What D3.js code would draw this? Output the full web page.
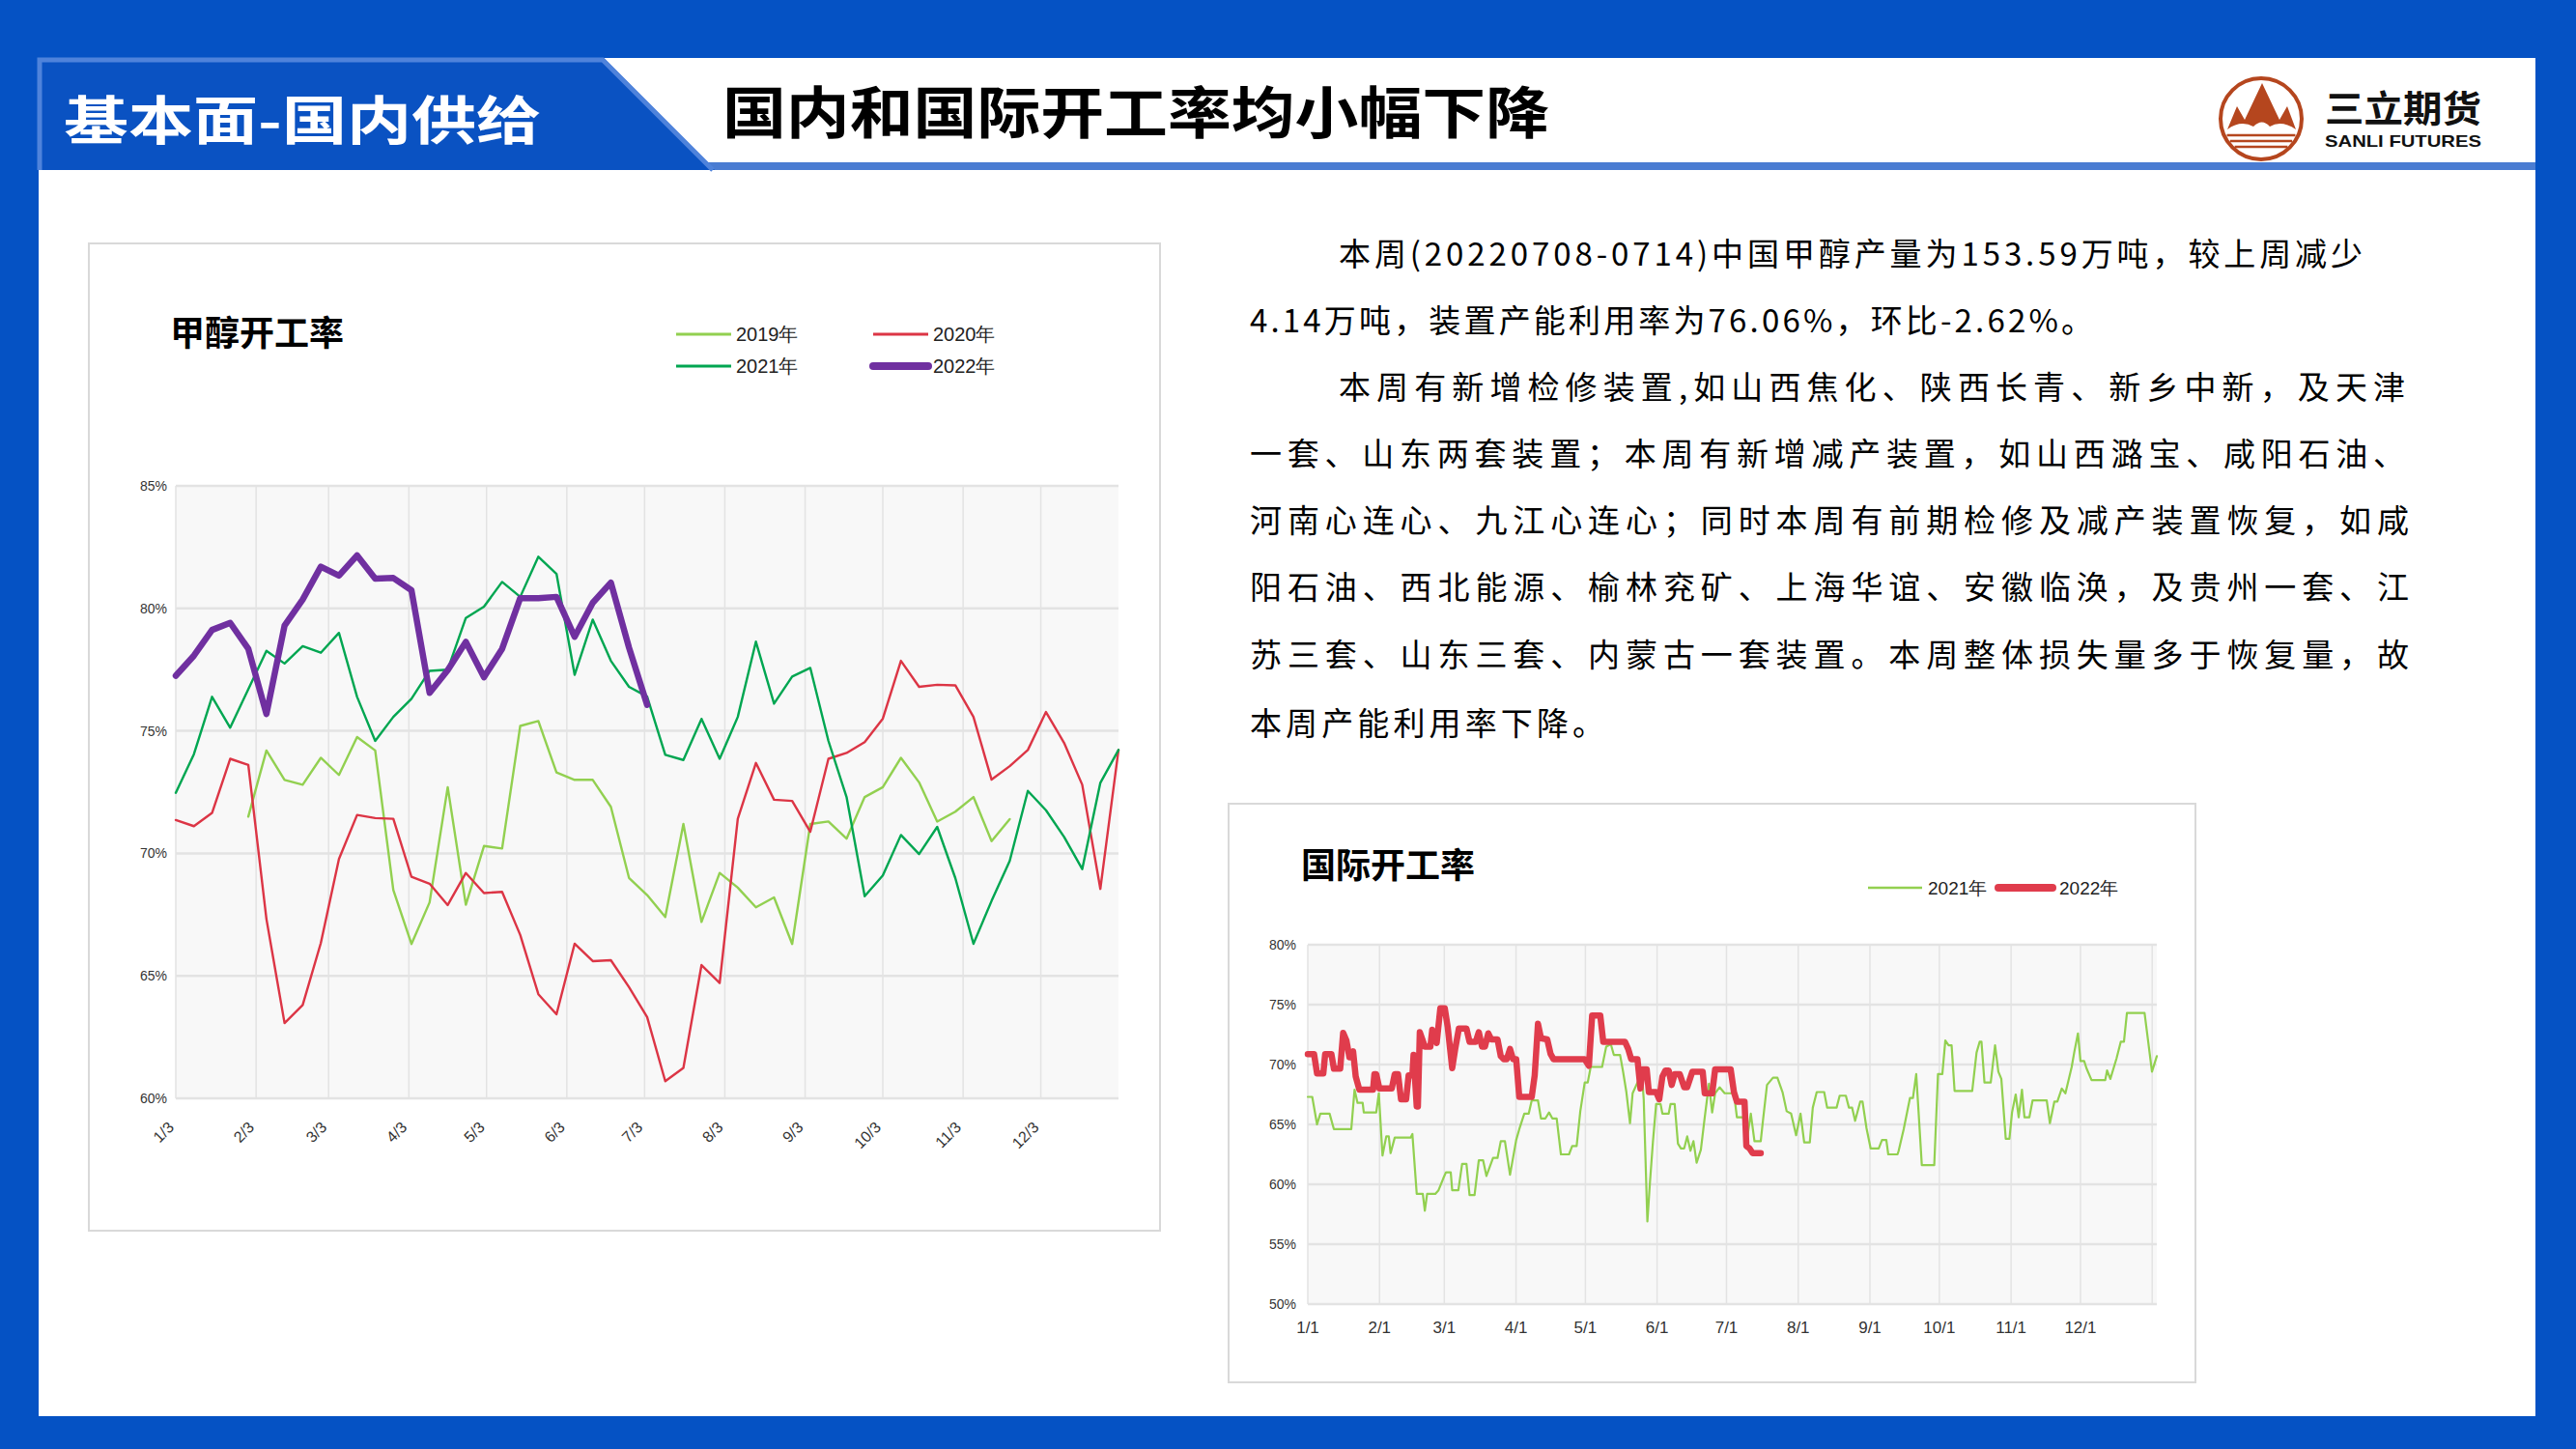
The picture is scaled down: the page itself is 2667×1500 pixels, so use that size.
<!DOCTYPE html>
<html><head><meta charset="utf-8">
<script src="https://cdn.jsdelivr.net/npm/d3@7"></script>
<style>html,body{margin:0;padding:0;background:#fff;} svg{display:block;}</style>
</head><body>
<svg id="c" width="2667" height="1500"></svg>
<script>
// ---------------- DATA ----------------
const domYearLabels = ["2019年", "2020年", "2021年", "2022年"];
const domXTicks = ["1/3","2/3","3/3","4/3","5/3","6/3","7/3","8/3","9/3","10/3","11/3","12/3"];
const domYTicks = [60, 65, 70, 75, 80, 85];
// weekly values, week 0 = 1/3
const dom2019 = [null,null,null,null,71.5,74.2,73.0,72.8,73.9,73.2,74.75,74.2,68.5,66.3,
  68.0,72.7,67.9,70.3,70.2,75.2,75.4,73.3,73.0,73.0,71.9,69.0,68.3,67.4,71.2,67.2,69.2,68.6,67.8,68.2,
  66.3,71.2,71.3,70.6,72.3,72.7,73.9,72.9,71.3,71.7,72.3,70.5,71.4,null,null,null,null,null,null];
const dom2020 = [71.36,71.11,71.65,73.86,73.61,67.32,63.07,63.81,66.34,69.77,71.57,71.44,71.41,69.04,
  68.76,67.89,69.2,68.38,68.43,66.67,64.25,63.43,66.31,65.6,65.64,64.54,63.32,
  60.7,61.24,65.44,64.71,71.41,73.69,72.19,72.14,70.88,73.86,74.1,74.54,75.5,
  77.86,76.8,76.88,76.86,75.57,73.01,73.56,74.22,75.77,74.51,72.8,68.55,74.22];
const dom2021 = [72.47,74.05,76.39,75.13,76.7,78.27,77.75,78.46,78.19,79.0,76.39,74.59,75.57,76.31,
  77.45,77.5,79.61,80.07,81.08,80.47,82.11,81.41,77.29,79.54,77.86,76.8,76.4,
  74.02,73.81,75.49,73.86,75.57,78.64,76.11,77.22,77.57,74.59,72.3,68.25,69.1,
  70.75,69.97,71.08,68.99,66.31,68.06,69.69,72.55,71.76,70.67,69.36,72.88,74.22];
const dom2022 = [77.25,78.07,79.12,79.41,78.35,75.69,79.30,80.36,81.70,81.34,82.16,81.21,81.24,80.74,
  76.55,77.48,78.63,77.19,78.35,80.42,80.42,80.47,78.84,80.23,81.05,78.4,76.06];

const intlYearLabels = ["2021年", "2022年"];
const intlXTicks = ["1/1","2/1","3/1","4/1","5/1","6/1","7/1","8/1","9/1","10/1","11/1","12/1"];
const intlYTicks = [50, 55, 60, 65, 70, 75, 80];
// day of year (0 = 1/1) and value
const intl2021Day = [0,1.9,4,5.4,9.4,11.3,18.8,20.2,21.5,23.7,24.2,29.6,30.7,32.3,33.9,35,35.8,37.6,44.4,45.2,
  47.1,49.7,50.6,51.6,55.1,56.5,58.6,59.7,61.8,62.4,65.1,66.7,68.6,69.9,72.1,73.9,75.8,77.2,80.1,82,
  83.4,85.2,87.4,90.1,91.4,93.6,95.5,96.8,99.5,100.8,102.7,104.3,105.7,107.6,109.4,112.9,114.3,116.2,117.8,119.7,
  121,122.3,127.2,129,131,132.3,135,136.3,137.7,139.3,140.4,142.5,144.4,145.2,146.8,147.9,149.2,150.6,152.5,153.3,
  156,156.8,158.6,160,161.3,162.7,164,165.4,166.7,168.1,169.9,171.6,173.4,174.8,176.1,178,180.2,184.2,185.5,188.2,
  189.6,191.5,193.1,195.8,196.8,198.5,201.1,203,205.2,207,208.9,211.1,213,214.6,217,218.3,220,223.2,224.5,228.6,
  229.9,232.6,233.9,235.3,236.6,238.8,239.8,241.5,243.3,246.8,248.2,250.1,250.9,254.9,255.4,257.6,260.3,261.6,263,264,
  265.4,270.8,272.4,274.3,275.6,277,278.3,279.6,287.2,289.1,290.4,291.2,292.5,295.2,297.1,298.5,299.8,301.7,303.3,304.4,
  306,307.3,308.7,309.8,311.9,313.3,319.4,320.8,322.7,324,325.9,327.5,330.2,331.3,332.9,334,335.6,336.6,338.8,344.7,
  345.5,346.9,349.6,351.4,352.8,354.1,361.7,364.9,367];
const intl2021Val = [67.3,67.3,65.0,65.9,65.9,64.6,64.6,67.9,66.8,66.8,66.0,66.0,67.6,62.4,64.0,64.0,62.6,63.9,63.9,64.2,
  59.2,59.2,57.8,59.2,59.2,59.5,60.5,61.0,61.0,59.5,59.5,61.7,61.7,59.1,59.1,62.0,62.0,60.7,62.2,62.2,
  63.6,63.6,60.8,63.7,64.6,65.9,65.9,67.0,67.0,65.5,65.5,66.0,65.5,65.5,62.5,62.5,63.2,63.2,66.1,68.5,
  68.5,69.8,69.8,71.5,71.7,70.8,70.8,69.4,67.7,65.1,67.6,68.5,69.2,67.1,56.9,60.2,63.6,66.7,66.7,65.9,
  65.9,66.7,66.7,63.4,63.0,63.0,64.0,62.8,63.6,61.8,62.9,65.6,68.4,66.0,67.6,68.1,67.6,67.6,65.6,65.6,
  63.4,65.9,63.6,63.6,65.4,68.3,68.9,68.9,67.7,66.1,65.9,64.1,65.9,63.5,63.5,66.4,67.7,67.7,66.4,66.4,
  67.4,67.4,66.4,66.4,65.3,66.9,66.9,64.7,63.0,63.0,63.7,63.7,62.5,62.5,62.8,64.6,67.2,67.2,69.2,66.1,
  61.6,61.6,69.2,69.2,72.0,71.6,71.6,67.8,67.8,71.0,71.9,71.9,68.5,68.5,71.6,69.4,68.8,63.8,63.8,66.0,
  67.5,65.6,67.9,65.6,65.6,67.0,67.0,65.1,66.9,66.9,68.0,67.6,69.8,71.0,72.6,70.3,70.3,69.7,68.7,68.7,
  69.5,68.8,70.5,71.9,71.9,74.3,74.3,69.4,70.7];
const intl2022Day = [0,2.7,4,6.7,7.5,10.2,11.3,14,15.3,16.7,18,19.6,20.7,22.3,28.2,28.8,29.6,30.9,36.3,37.6,
  39,40.3,42.5,43.6,45.2,45.7,47.1,47.6,48.4,50.6,53,53.8,55.7,57.3,59.2,60.5,62.4,63.7,65.3,68.6,
  69.9,72.6,73.9,75.3,76.6,78,79.3,82,83.4,84.7,86,87.4,88.7,90.1,91.4,96.8,98.1,99.5,100.8,103.5,
  104.9,106.2,119.7,121.5,122.9,126.4,127.7,137.1,138.5,139.8,142.5,143.8,144.7,146.5,147.4,150.6,151.9,153.3,154.6,156,
  157.3,158.6,160.8,162.7,164,166.2,170.7,171.6,174.8,176.1,182.8,184.2,185.5,188.8,189.6,190.9,192.3,195.8];
const intl2022Val = [70.86,70.86,69.25,69.25,70.86,70.86,69.65,69.65,72.65,72.0,70.6,71.1,69.0,67.9,67.9,69.2,69.2,68.0,68.0,69.2,
  69.2,67.1,67.1,69.1,69.1,70.8,66.5,66.5,72.7,71.5,71.5,72.9,71.8,74.7,74.7,73.1,69.7,71.3,73.0,73.0,
  71.9,71.9,72.7,71.5,71.5,72.6,72.1,72.1,70.7,70.45,70.45,71.3,70.45,70.45,67.3,67.3,69.1,73.4,72.2,72.1,
  70.9,70.45,70.45,69.9,74.1,74.1,71.9,71.9,71.3,70.45,70.45,68.0,69.6,69.6,67.7,67.7,67.1,69.0,69.5,69.5,
  68.3,69.2,69.2,68.1,68.1,69.4,69.4,67.6,67.6,69.6,69.6,67.7,66.9,66.9,63.2,63.0,62.6,62.6];

const textLines = [
  "本周(20220708-0714)中国甲醇产量为153.59万吨，较上周减少",
  "4.14万吨，装置产能利用率为76.06%，环比-2.62%。",
  "本周有新增检修装置,如山西焦化、陕西长青、新乡中新，及天津",
  "一套、山东两套装置；本周有新增减产装置，如山西潞宝、咸阳石油、",
  "河南心连心、九江心连心；同时本周有前期检修及减产装置恢复，如咸",
  "阳石油、西北能源、榆林兖矿、上海华谊、安徽临涣，及贵州一套、江",
  "苏三套、山东三套、内蒙古一套装置。本周整体损失量多于恢复量，故",
  "本周产能利用率下降。"
];

// ---------------- LAYOUT / STYLE ----------------
const svg = d3.select("#c");
const CJK = "'Noto Sans CJK SC','Noto Sans',sans-serif";
const NUM = "'Liberation Sans Narrow','Liberation Sans',Arial,sans-serif";
const BLUE = "#0552C4";

svg.append("rect").attr("width", 2667).attr("height", 1500).attr("fill", BLUE);
svg.append("rect").attr("x", 40).attr("y", 60).attr("width", 2585).attr("height", 1406).attr("fill", "#fff");

// header
svg.append("rect").attr("x", 40).attr("y", 168).attr("width", 2585).attr("height", 8).attr("fill", "#4A7CD2");
svg.append("polygon").attr("points", "40,60 625,60 740,176 40,176").attr("fill", "#0A52C2");
svg.append("polyline").attr("points", "41,176 41,62 624,62 738,176")
  .attr("fill", "none").attr("stroke", "#4F83DB").attr("stroke-width", 5);
svg.append("text").attr("x", 66).attr("y", 121).attr("dominant-baseline", "central")
  .attr("font-family", CJK).attr("font-weight", 700).attr("font-size", 54).attr("fill", "#fff")
  .attr("textLength", 494).attr("lengthAdjust", "spacingAndGlyphs").text("基本面-国内供给");
svg.append("text").attr("x", 748).attr("y", 113).attr("dominant-baseline", "central")
  .attr("font-family", CJK).attr("font-weight", 700).attr("font-size", 58).attr("fill", "#000")
  .attr("textLength", 856).attr("lengthAdjust", "spacingAndGlyphs").text("国内和国际开工率均小幅下降");

// logo
const BROWN = "#B5461E";
const logo = svg.append("g");
logo.append("circle").attr("cx", 2341).attr("cy", 123).attr("r", 42).attr("fill", "#fff")
  .attr("stroke", BROWN).attr("stroke-width", 4);
logo.append("path").attr("fill", BROWN)
  .attr("d", "M2306,134 L2316,110 L2324,124 L2342,86 L2360,124 L2368,110 L2377,134 Q2362,124 2350,131 Q2342,122 2333,131 Q2320,124 2306,134 Z");
[140, 146, 152].forEach(y => {
  const dy = Math.abs(y - 123), half = Math.sqrt(42 * 42 - dy * dy) - 3;
  logo.append("line").attr("x1", 2341 - half).attr("x2", 2341 + half).attr("y1", y).attr("y2", y)
    .attr("stroke", BROWN).attr("stroke-width", 2.5);
});
logo.append("text").attr("x", 2407).attr("y", 109).attr("dominant-baseline", "central")
  .attr("font-family", CJK).attr("font-weight", 700).attr("font-size", 38).attr("fill", "#111")
  .attr("textLength", 162).attr("lengthAdjust", "spacingAndGlyphs").text("三立期货");
logo.append("text").attr("x", 2407).attr("y", 146).attr("dominant-baseline", "central")
  .attr("font-family", "'Liberation Sans',Arial,sans-serif").attr("font-weight", 700).attr("font-size", 17)
  .attr("fill", "#111").attr("textLength", 162).attr("lengthAdjust", "spacingAndGlyphs").text("SANLI FUTURES");

// ---------------- LEFT CHART ----------------
const L = {x0: 182, x1: 1158, y0: 503, y1: 1137};
svg.append("rect").attr("x", 92).attr("y", 252).attr("width", 1109).attr("height", 1022)
  .attr("fill", "#fff").attr("stroke", "#D9D9D9").attr("stroke-width", 2);
svg.append("text").attr("x", 176).attr("y", 342).attr("dominant-baseline", "central")
  .attr("font-family", CJK).attr("font-weight", 700).attr("font-size", 36).text("甲醇开工率");

const domStart = new Date(2022, 0, 3);
const xL = d3.scaleTime().domain([domStart, d3.timeDay.offset(domStart, 364)]).range([L.x0, L.x1]);
const yL = d3.scaleLinear().domain([60, 85]).range([L.y1, L.y0]);
const gL = svg.append("g");
gL.append("rect").attr("x", L.x0).attr("y", L.y0).attr("width", L.x1 - L.x0).attr("height", L.y1 - L.y0).attr("fill", "#F8F8F8");
const domTickDates = domXTicks.map(s => { const [m, d] = s.split("/").map(Number); return new Date(2022, m - 1, d); });
gL.selectAll(".vg").data(domTickDates).join("line")
  .attr("x1", d => xL(d)).attr("x2", d => xL(d)).attr("y1", L.y0).attr("y2", L.y1)
  .attr("stroke", "#E3E3E3").attr("stroke-width", 1.5);
gL.selectAll(".hg").data(domYTicks).join("line")
  .attr("x1", L.x0).attr("x2", L.x1).attr("y1", d => yL(d)).attr("y2", d => yL(d))
  .attr("stroke", "#E3E3E3").attr("stroke-width", 2.5);
gL.selectAll(".yl").data(domYTicks).join("text")
  .attr("x", L.x0 - 9).attr("y", d => yL(d)).attr("text-anchor", "end").attr("dominant-baseline", "central")
  .attr("font-family", NUM).attr("font-size", 14).attr("fill", "#333").text(d => d + "%");
gL.selectAll(".xl").data(domTickDates).join("text")
  .attr("transform", d => `translate(${xL(d) - 1},${L.y1 + 31}) rotate(-45)`)
  .attr("text-anchor", "end").attr("font-family", NUM).attr("font-size", 16).attr("fill", "#333")
  .text((d, i) => domXTicks[i]);

const lineL = d3.line().defined(d => d != null)
  .x((d, i) => xL(d3.timeDay.offset(domStart, 7 * i))).y(d => yL(d));
const domSeries = [
  {vals: dom2019, color: "#92D050", w: 2.4},
  {vals: dom2020, color: "#DC3545", w: 2.4},
  {vals: dom2021, color: "#00A651", w: 2.4},
  {vals: dom2022, color: "#7030A0", w: 6.5}
];
domSeries.forEach(s => {
  gL.append("path").attr("d", lineL(s.vals)).attr("fill", "none").attr("stroke", s.color)
    .attr("stroke-width", s.w).attr("stroke-linejoin", "round").attr("stroke-linecap", "round");
});
// legend
const legPos = [[700, 346], [904, 346], [700, 379], [904, 379]];
domSeries.forEach((s, i) => {
  const [lx, ly] = legPos[i];
  svg.append("line").attr("x1", lx).attr("x2", lx + 57).attr("y1", ly).attr("y2", ly)
    .attr("stroke", s.color).attr("stroke-width", i === 3 ? 8 : 3).attr("stroke-linecap", i === 3 ? "round" : "butt");
  svg.append("text").attr("x", lx + 62).attr("y", ly).attr("dominant-baseline", "central")
    .attr("font-family", NUM).attr("font-size", 20).attr("fill", "#222").text(domYearLabels[i]);
});

// ---------------- RIGHT TEXT ----------------
const textLayout = [
  [1386, 261, 1060], [1294, 330, 873], [1386, 399, 1104], [1294, 468, 1196],
  [1294, 537, 1200], [1294, 606, 1200], [1294, 676, 1200], [1294, 747, 367]
];
textLines.forEach((t, i) => {
  const [tx, ty, tl] = textLayout[i];
  svg.append("text").attr("x", tx).attr("y", ty).attr("dominant-baseline", "central")
    .attr("font-family", CJK).attr("font-size", 33).attr("fill", "#000")
    .attr("textLength", tl).attr("lengthAdjust", "spacing").text(t);
});

// ---------------- RIGHT CHART ----------------
const R = {x0: 1354, x1: 2233, y0: 978, y1: 1350};
svg.append("rect").attr("x", 1272).attr("y", 832).attr("width", 1001).attr("height", 599)
  .attr("fill", "#fff").attr("stroke", "#D9D9D9").attr("stroke-width", 2);
svg.append("text").attr("x", 1347).attr("y", 893).attr("dominant-baseline", "central")
  .attr("font-family", CJK).attr("font-weight", 700).attr("font-size", 36).text("国际开工率");
const intlStart = new Date(2022, 0, 1);
const xR = d3.scaleTime().domain([intlStart, d3.timeDay.offset(intlStart, 367)]).range([R.x0, R.x1]);
const yR = d3.scaleLinear().domain([50, 80]).range([R.y1, R.y0]);
const gR = svg.append("g");
gR.append("rect").attr("x", R.x0).attr("y", R.y0).attr("width", R.x1 - R.x0).attr("height", R.y1 - R.y0).attr("fill", "#F8F8F8");
const intlTickDates = intlXTicks.map(s => { const [m, d] = s.split("/").map(Number); return new Date(2022, m - 1, d); });
const intlGridDates = intlTickDates.concat([new Date(2023, 0, 1)]);
gR.selectAll(".vg").data(intlGridDates).join("line")
  .attr("x1", d => xR(d)).attr("x2", d => xR(d)).attr("y1", R.y0).attr("y2", R.y1)
  .attr("stroke", "#E3E3E3").attr("stroke-width", 1.5);
gR.selectAll(".hg").data(intlYTicks).join("line")
  .attr("x1", R.x0).attr("x2", R.x1).attr("y1", d => yR(d)).attr("y2", d => yR(d))
  .attr("stroke", "#E3E3E3").attr("stroke-width", 2.5);
gR.selectAll(".yl").data(intlYTicks).join("text")
  .attr("x", R.x0 - 12).attr("y", d => yR(d)).attr("text-anchor", "end").attr("dominant-baseline", "central")
  .attr("font-family", NUM).attr("font-size", 14).attr("fill", "#333").text(d => d + "%");
gR.selectAll(".xl").data(intlTickDates).join("text")
  .attr("x", d => xR(d)).attr("y", R.y1 + 24).attr("text-anchor", "middle").attr("dominant-baseline", "central")
  .attr("font-family", NUM).attr("font-size", 17).attr("fill", "#333").text((d, i) => intlXTicks[i]);

const lineR = d3.line().x(d => xR(d3.timeHour.offset(intlStart, Math.round(d[0] * 24)))).y(d => yR(d[1]));
const intlSeries = [
  {days: intl2021Day, vals: intl2021Val, color: "#92D050", w: 2.2},
  {days: intl2022Day, vals: intl2022Val, color: "#E03C4C", w: 6.5}
];
intlSeries.forEach(s => {
  const pts = s.days.map((d, i) => [d, s.vals[i]]);
  gR.append("path").attr("d", lineR(pts)).attr("fill", "none").attr("stroke", s.color)
    .attr("stroke-width", s.w).attr("stroke-linejoin", "round").attr("stroke-linecap", "round");
});
const legR = [[1934, 919], [2069, 919]];
intlSeries.forEach((s, i) => {
  const [lx, ly] = legR[i];
  svg.append("line").attr("x1", lx).attr("x2", lx + 56).attr("y1", ly).attr("y2", ly)
    .attr("stroke", s.color).attr("stroke-width", i === 1 ? 8 : 2.5).attr("stroke-linecap", i === 1 ? "round" : "butt");
  svg.append("text").attr("x", lx + (i === 1 ? 63 : 62)).attr("y", ly).attr("dominant-baseline", "central")
    .attr("font-family", NUM).attr("font-size", 19).attr("fill", "#222").text(intlYearLabels[i]);
});
</script>
</body></html>
